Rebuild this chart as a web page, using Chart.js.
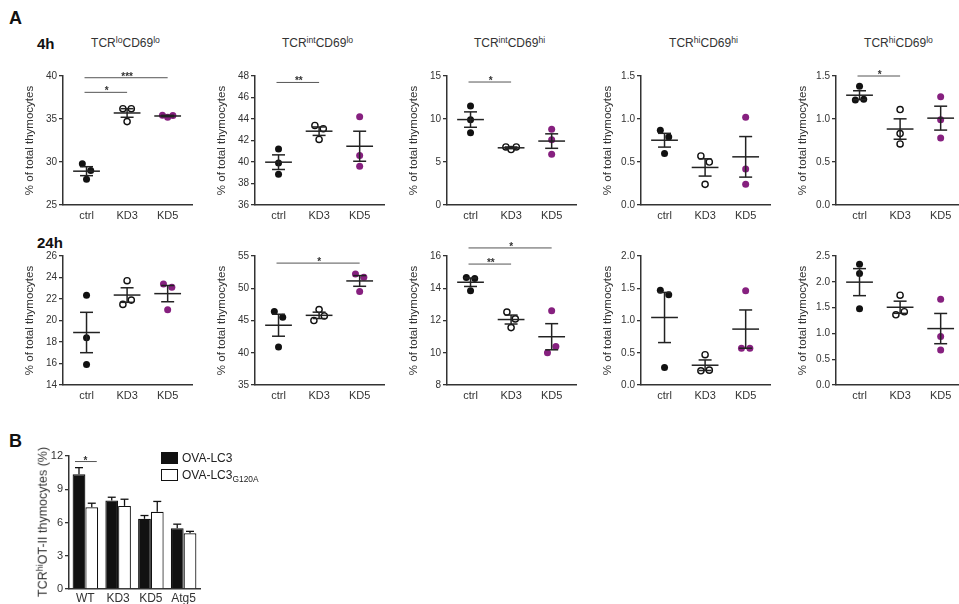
<!DOCTYPE html>
<html><head><meta charset="utf-8">
<script src="https://cdn.jsdelivr.net/npm/chart.js@4.4.1/dist/chart.umd.min.js"></script>
<style>
html,body{margin:0;padding:0;background:#fff;overflow:hidden;width:959px;height:604px;}
body{position:relative;font-family:"Liberation Sans",Arial,Helvetica,sans-serif;color:#222;}
.lbl{position:absolute;white-space:nowrap;line-height:1;}
.cw{position:absolute;}
.ptitle{position:absolute;white-space:nowrap;font-size:12px;line-height:1;color:#333;transform:translateX(-50%);}
sup{font-size:72%;vertical-align:0.5em;line-height:0;}
sub{font-size:70%;vertical-align:-0.3em;line-height:0;}
.sw{position:absolute;width:15px;height:10px;border:1px solid #111;}
</style></head><body>
<script>
// ---------------- DATA ----------------
const groups = ['ctrl', 'KD3', 'KD5'];

// 4 h (values per group: ctrl, KD3, KD5)
const h4_TCRloCD69lo   = [[29.8, 29.0, 28.0], [36.2, 36.2, 34.7], [35.45, 35.2, 35.4]];
const h4_TCRintCD69lo  = [[41.2, 39.9, 38.85], [43.4, 43.1, 42.1], [44.2, 40.6, 39.6]];
const h4_TCRintCD69hi  = [[11.5, 9.9, 8.4], [6.75, 6.45, 6.75], [8.8, 7.6, 5.9]];
const h4_TCRhiCD69hi   = [[0.87, 0.79, 0.60], [0.57, 0.50, 0.24], [1.02, 0.42, 0.24]];
const h4_TCRhiCD69lo   = [[1.38, 1.22, 1.23], [1.11, 0.83, 0.71], [1.26, 0.99, 0.78]];
// 24 h
const h24_TCRloCD69lo  = [[22.35, 18.4, 15.9], [23.7, 21.5, 21.9], [23.4, 23.1, 21.0]];
const h24_TCRintCD69lo = [[46.4, 45.5, 40.9], [45.0, 46.7, 45.7], [52.2, 51.7, 49.5]];
const h24_TCRintCD69hi = [[14.67, 14.6, 13.85], [12.52, 12.1, 11.56], [12.6, 10.0, 10.38]];
const h24_TCRhiCD69hi  = [[1.47, 1.40, 0.27], [0.47, 0.22, 0.23], [1.46, 0.57, 0.57]];
const h24_TCRhiCD69lo  = [[2.34, 2.16, 1.48], [1.74, 1.36, 1.42], [1.66, 0.94, 0.68]];

// y tick labels
const ticks_h4_loLo   = ['25', '30', '35', '40'];
const ticks_h4_intLo  = ['36', '38', '40', '42', '44', '46', '48'];
const ticks_h4_intHi  = ['0', '5', '10', '15'];
const ticks_h4_hiHi   = ['0.0', '0.5', '1.0', '1.5'];
const ticks_h4_hiLo   = ['0.0', '0.5', '1.0', '1.5'];
const ticks_h24_loLo  = ['14', '16', '18', '20', '22', '24', '26'];
const ticks_h24_intLo = ['35', '40', '45', '50', '55'];
const ticks_h24_intHi = ['8', '10', '12', '14', '16'];
const ticks_h24_hiHi  = ['0.0', '0.5', '1.0', '1.5', '2.0'];
const ticks_h24_hiLo  = ['0.0', '0.5', '1.0', '1.5', '2.0', '2.5'];

// significance brackets: [fromGroup, toGroup, yValue, label]
const sig_h4_loLo   = [[0, 2, 39.8, '***'], [0, 1, 38.1, '*']];
const sig_h4_intLo  = [[0, 1, 47.4, '**']];
const sig_h4_intHi  = [[0, 1, 14.3, '*']];
const sig_h4_hiLo   = [[0, 1, 1.5, '*']];
const sig_h24_intLo = [[0, 2, 53.9, '*']];
const sig_h24_intHi = [[0, 1, 15.5, '**'], [0, 2, 16.5, '*']];

const panelTitles = ['TCR<sup>lo</sup>CD69<sup>lo</sup>', 'TCR<sup>int</sup>CD69<sup>lo</sup>',
  'TCR<sup>int</sup>CD69<sup>hi</sup>', 'TCR<sup>hi</sup>CD69<sup>hi</sup>', 'TCR<sup>hi</sup>CD69<sup>lo</sup>'];
const yAxisTitle = '% of total thymocytes';

// Panel B
const barCats = ['WT', 'KD3', 'KD5', 'Atg5'];
const ovaLC3      = [10.35, 7.98, 6.33, 5.49];
const ovaLC3Err   = [0.6, 0.3, 0.3, 0.36];
const ovaG120A    = [7.38, 7.5, 6.96, 5.03];
const ovaG120AErr = [0.36, 0.6, 0.94, 0.17];
const barTicks = ['0', '3', '6', '9', '12'];
const barSig = [[0, 11.5, '*']];

// ---------------- LAYOUT / STYLE ----------------
Chart.defaults.font.family = "'Liberation Sans', Arial, Helvetica, sans-serif";
Chart.defaults.color = '#333';
const AX = '#333';
const colX = [63, 255, 447, 641, 836];
const rowTop = [76, 256];
const XMIN = -0.58, XMAX = 2.6;
const PADL = 2, YW = 48, PW = 129, PADR = 10, PADT = 16, PH = 129, XH = 22;
const fills = ['#111111', '#ffffff', '#86207f'];
const borders = ['#111111', '#111111', '#86207f'];

function mean(a) { return a.reduce((s, v) => s + v, 0) / a.length; }
function sem(a) { const m = mean(a); const v = a.reduce((s, x) => s + (x - m) * (x - m), 0) / (a.length - 1); return Math.sqrt(v / a.length); }

// spread overlapping points horizontally (keeps data order within a cluster)
function spread(vals, pxY, pxX) {
  const idx = vals.map((v, i) => i).sort((a, b) => vals[a] - vals[b]);
  const off = new Array(vals.length).fill(0);
  let cl = [idx[0]];
  const flush = () => {
    const n = cl.length; if (n < 2) return;
    const ordered = cl.slice().sort((a, b) => a - b);
    const step = n === 2 ? 8.4 : 5.2;
    ordered.forEach((ii, k) => { off[ii] = (k - (n - 1) / 2) * step / pxX; });
  };
  for (let k = 1; k < idx.length; k++) {
    if ((vals[idx[k]] - vals[idx[k - 1]]) * pxY < 8) cl.push(idx[k]);
    else { flush(); cl = [idx[k]]; }
  }
  flush();
  return off;
}

function addLabel(html, left, top, css) {
  const d = document.createElement('div'); d.className = 'lbl'; d.innerHTML = html;
  d.style.left = left + 'px'; d.style.top = top + 'px'; Object.assign(d.style, css || {});
  document.body.appendChild(d); return d;
}

function makeCanvas(left, top, W, H) {
  const wrap = document.createElement('div'); wrap.className = 'cw';
  wrap.style.left = left + 'px'; wrap.style.top = top + 'px';
  wrap.style.width = W + 'px'; wrap.style.height = H + 'px';
  const cv = document.createElement('canvas'); cv.width = W; cv.height = H;
  cv.style.width = W + 'px'; cv.style.height = H + 'px';
  wrap.appendChild(cv); document.body.appendChild(wrap);
  return cv;
}

function makeScatter(data, tickLabels, sig, axisX, plotTop) {
  const W = PADL + YW + PW + PADR, H = PADT + PH + XH;
  const cv = makeCanvas(axisX - PADL - YW, plotTop - PADT, W, H);
  const tv = tickLabels.map(Number);
  const ymin = tv[0], ymax = tv[tv.length - 1];
  const pxY = PH / (ymax - ymin), pxX = PW / (XMAX - XMIN);
  const datasets = data.map((vals, g) => {
    const off = spread(vals, pxY, pxX);
    return {
      data: vals.map((v, i) => ({ x: g + off[i], y: v })),
      backgroundColor: fills[g], borderColor: borders[g],
      borderWidth: g === 1 ? 1.4 : 0, pointRadius: g === 1 ? 3.1 : 3.5,
      pointHoverRadius: 3.5, clip: false
    };
  });
  const plugin = {
    id: 'meanSem',
    afterDatasetsDraw(chart) {
      const { ctx, scales: { x, y } } = chart;
      ctx.save();
      ctx.strokeStyle = '#222'; ctx.lineWidth = 1.5; ctx.lineCap = 'butt';
      const seg = (x1, y1, x2, y2) => { ctx.beginPath(); ctx.moveTo(x1, y1); ctx.lineTo(x2, y2); ctx.stroke(); };
      data.forEach((vals, g) => {
        const m = mean(vals), s = sem(vals);
        const xc = x.getPixelForValue(g);
        const ym = y.getPixelForValue(m), yt = y.getPixelForValue(m + s), yb = y.getPixelForValue(m - s);
        seg(x.getPixelForValue(g - 0.33), ym, x.getPixelForValue(g + 0.33), ym);
        seg(xc, yt, xc, yb);
        seg(x.getPixelForValue(g - 0.16), yt, x.getPixelForValue(g + 0.16), yt);
        seg(x.getPixelForValue(g - 0.16), yb, x.getPixelForValue(g + 0.16), yb);
      });
      (sig || []).forEach(([a, b, v, lab]) => {
        const yy = y.getPixelForValue(v);
        ctx.strokeStyle = '#555'; ctx.lineWidth = 1;
        seg(x.getPixelForValue(a) - 2, yy, x.getPixelForValue(b), yy);
        ctx.fillStyle = '#333'; ctx.font = "bold 10px 'Liberation Sans', Arial, sans-serif";
        ctx.textAlign = 'center'; ctx.textBaseline = 'alphabetic';
        ctx.fillText(lab, (x.getPixelForValue(a) + x.getPixelForValue(b)) / 2, yy + 2);
      });
      ctx.restore();
    }
  };
  new Chart(cv, {
    type: 'scatter',
    data: { datasets },
    plugins: [plugin],
    options: {
      responsive: false, animation: false, events: [],
      layout: { padding: { left: PADL, right: PADR, top: PADT, bottom: 0 } },
      plugins: { legend: { display: false }, tooltip: { enabled: false } },
      scales: {
        x: {
          type: 'linear', min: XMIN, max: XMAX,
          afterBuildTicks: s => { s.ticks = [0, 1, 2].map(v => ({ value: v })); },
          afterFit: s => { s.height = XH; },
          ticks: { callback: v => groups[v], font: { size: 11 }, color: '#333', padding: 4, autoSkip: false, maxRotation: 0 },
          grid: { display: true, drawOnChartArea: false, drawTicks: false },
          border: { display: true, color: AX, width: 1.5 }
        },
        y: {
          type: 'linear', min: ymin, max: ymax,
          afterBuildTicks: s => { s.ticks = tv.map(v => ({ value: v })); },
          afterFit: s => { s.width = YW; },
          ticks: { callback: v => tickLabels[tv.indexOf(v)], font: { size: 10 }, color: '#333', padding: 2, autoSkip: false },
          grid: { display: true, drawOnChartArea: false, drawTicks: true, tickLength: 4, color: AX, lineWidth: 1.3 },
          border: { display: true, color: AX, width: 1.5 },
          title: { display: true, text: yAxisTitle, font: { size: 11.5 }, color: '#333', padding: { top: 8, bottom: 0 } }
        }
      }
    }
  });
}

// ---------------- BUILD ----------------
addLabel('A', 9, 9, { fontSize: '18px', fontWeight: 'bold', color: '#111' });
addLabel('4h', 37, 36, { fontSize: '15px', fontWeight: 'bold', color: '#111' });
addLabel('24h', 37, 235, { fontSize: '15px', fontWeight: 'bold', color: '#111' });
addLabel('B', 9, 432, { fontSize: '18px', fontWeight: 'bold', color: '#111' });

panelTitles.forEach((t, i) => {
  const d = document.createElement('div'); d.className = 'ptitle'; d.innerHTML = t;
  d.style.left = (colX[i] + PW / 2 - 2) + 'px'; d.style.top = '37px';
  document.body.appendChild(d);
});

const rows = [
  [[h4_TCRloCD69lo, ticks_h4_loLo, sig_h4_loLo], [h4_TCRintCD69lo, ticks_h4_intLo, sig_h4_intLo],
   [h4_TCRintCD69hi, ticks_h4_intHi, sig_h4_intHi], [h4_TCRhiCD69hi, ticks_h4_hiHi, []],
   [h4_TCRhiCD69lo, ticks_h4_hiLo, sig_h4_hiLo]],
  [[h24_TCRloCD69lo, ticks_h24_loLo, []], [h24_TCRintCD69lo, ticks_h24_intLo, sig_h24_intLo],
   [h24_TCRintCD69hi, ticks_h24_intHi, sig_h24_intHi], [h24_TCRhiCD69hi, ticks_h24_hiHi, []],
   [h24_TCRhiCD69lo, ticks_h24_hiLo, []]]
];
rows.forEach((row, r) => row.forEach(([d, t, s], c) => makeScatter(d, t, s, colX[c], rowTop[r])));

// Panel B bar chart
(function () {
  const axisX = 69, plotTop = 456, bPH = 133, bYW = 27, bPW = 131, bPT = 14, bXH = 15;
  const W = PADL + bYW + bPW + 5, H = bPT + bPH + bXH;
  const cv = makeCanvas(axisX - PADL - bYW, plotTop - bPT, W, H);
  const tv = barTicks.map(Number);
  const errs = [ovaLC3Err, ovaG120AErr];
  const plugin = {
    id: 'barErr',
    afterDatasetsDraw(chart) {
      const { ctx, scales: { y } } = chart;
      ctx.save(); ctx.strokeStyle = '#111'; ctx.lineWidth = 1.3;
      const seg = (x1, y1, x2, y2) => { ctx.beginPath(); ctx.moveTo(x1, y1); ctx.lineTo(x2, y2); ctx.stroke(); };
      chart.data.datasets.forEach((ds, di) => {
        chart.getDatasetMeta(di).data.forEach((bar, i) => {
          const yt = y.getPixelForValue(ds.data[i] + errs[di][i]);
          seg(bar.x, bar.y, bar.x, yt);
          seg(bar.x - 4, yt, bar.x + 4, yt);
        });
      });
      barSig.forEach(([cat, v, lab]) => {
        const b0 = chart.getDatasetMeta(0).data[cat], b1 = chart.getDatasetMeta(1).data[cat];
        const yy = y.getPixelForValue(v);
        ctx.strokeStyle = '#555'; ctx.lineWidth = 1;
        seg(b0.x - 4, yy, b1.x + 5, yy);
        ctx.fillStyle = '#333'; ctx.font = "bold 10px 'Liberation Sans', Arial, sans-serif";
        ctx.textAlign = 'center';
        ctx.fillText(lab, (b0.x + b1.x) / 2, yy + 2);
      });
      ctx.restore();
    }
  };
  new Chart(cv, {
    type: 'bar',
    data: {
      labels: barCats,
      datasets: [
        { label: 'OVA-LC3', data: ovaLC3, backgroundColor: '#111', borderColor: '#111', borderWidth: 1.2 },
        { label: 'OVA-LC3 G120A', data: ovaG120A, backgroundColor: '#fff', borderColor: '#111', borderWidth: 1.2 }
      ]
    },
    plugins: [plugin],
    options: {
      responsive: false, animation: false, events: [],
      categoryPercentage: 0.78, barPercentage: 1.0,
      layout: { padding: { left: PADL, right: 5, top: bPT, bottom: 0 } },
      plugins: { legend: { display: false }, tooltip: { enabled: false } },
      scales: {
        x: {
          type: 'category', offset: true,
          afterFit: s => { s.height = bXH; },
          ticks: { font: { size: 12 }, color: '#333', padding: 2, autoSkip: false, maxRotation: 0 },
          grid: { display: true, drawOnChartArea: false, drawTicks: false },
          border: { display: true, color: AX, width: 1.5 }
        },
        y: {
          type: 'linear', min: tv[0], max: tv[tv.length - 1],
          afterBuildTicks: s => { s.ticks = tv.map(v => ({ value: v })); },
          afterFit: s => { s.width = bYW; },
          ticks: { callback: v => barTicks[tv.indexOf(v)], font: { size: 11 }, color: '#333', padding: 2, autoSkip: false },
          grid: { display: true, drawOnChartArea: false, drawTicks: true, tickLength: 4, color: AX, lineWidth: 1.3 },
          border: { display: true, color: AX, width: 1.5 }
        }
      }
    }
  });
  // rotated y-axis title with superscript
  const t = document.createElement('div'); t.className = 'lbl';
  t.innerHTML = 'TCR<sup>hi</sup>OT-II thymocytes (%)';
  Object.assign(t.style, { fontSize: '12.5px', color: '#333', left: '43px', top: '522px', transform: 'translate(-50%,-50%) rotate(-90deg)' });
  document.body.appendChild(t);
  // legend
  const sw1 = document.createElement('div'); sw1.className = 'sw'; Object.assign(sw1.style, { left: '161px', top: '452px', background: '#111' });
  const sw2 = document.createElement('div'); sw2.className = 'sw'; Object.assign(sw2.style, { left: '161px', top: '469px', background: '#fff' });
  document.body.appendChild(sw1); document.body.appendChild(sw2);
  addLabel('OVA-LC3', 182, 452, { fontSize: '12px', color: '#222' });
  addLabel('OVA-LC3<sub>G120A</sub>', 182, 469, { fontSize: '12px', color: '#222' });
})();
</script>
</body></html>
